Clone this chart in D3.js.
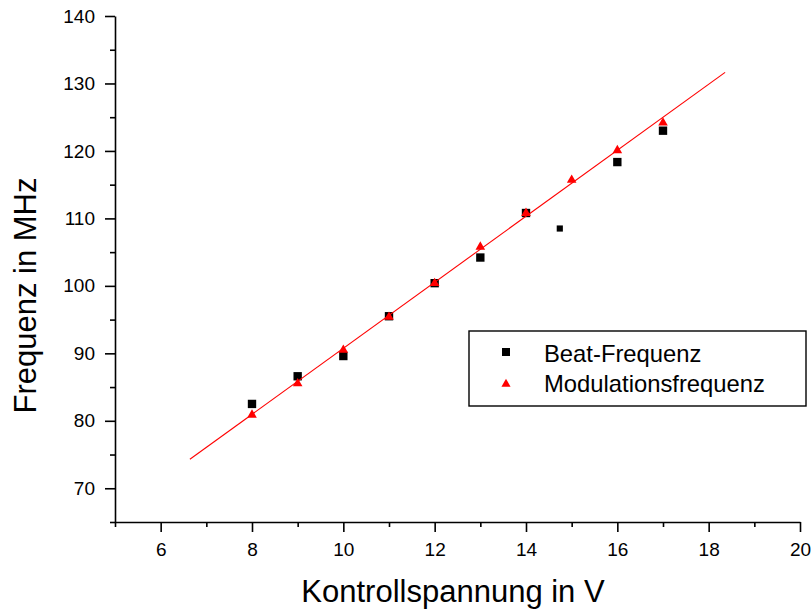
<!DOCTYPE html>
<html>
<head>
<meta charset="utf-8">
<script src="https://cdn.jsdelivr.net/npm/d3@7"></script>
<style>
  body { margin: 0; background: #fff; }
  svg { display: block; font-family: "Liberation Sans", Arial, sans-serif; }
</style>
</head>
<body>
<div id="chart"></div>
<script>
// Beat-Frequenz (black squares)
const beatX = [8, 9, 10, 11, 12, 13, 14, 16, 17];
const beatY = [82.5, 86.6, 89.6, 95.5, 100.4, 104.2, 110.8, 118.35, 123.0];
// single smaller square
const extraX = [14.74];
const extraY = [108.5];
// Modulationsfrequenz (red triangles)
const modX = [8, 9, 10, 11, 12, 13, 14, 15, 16, 17];
const modY = [81.0, 85.65, 90.6, 95.5, 100.5, 105.9, 110.9, 115.8, 120.2, 124.3];
// linear fit line end points
const fitX = [6.64, 18.36];
const fitY = [74.3, 131.65];

const xMajor = [6, 8, 10, 12, 14, 16, 18, 20];
const xMinor = [5, 7, 9, 11, 13, 15, 17, 19];
const yMajor = [70, 80, 90, 100, 110, 120, 130, 140];
const yMinor = [65, 75, 85, 95, 105, 115, 125, 135];

const legendLabels = ["Beat-Frequenz", "Modulationsfrequenz"];

const W = 811, H = 610;
const m = { left: 115, right: 800, top: 16, bottom: 522 };

const svg = d3.select("#chart").append("svg")
    .attr("width", W).attr("height", H);

const x = d3.scaleLinear().domain([5, 20]).range([m.left, m.right]);
const y = d3.scaleLinear().domain([65, 140]).range([m.bottom, m.top]);

// x axis
svg.append("g").attr("transform", `translate(0,${m.bottom})`)
    .call(d3.axisBottom(x).tickValues(xMajor).tickSize(10).tickSizeOuter(0).tickPadding(11));
svg.append("g").attr("transform", `translate(0,${m.bottom})`)
    .call(d3.axisBottom(x).tickValues(xMinor).tickSize(5).tickFormat(""))
    .select(".domain").remove();

// y axis
svg.append("g").attr("transform", `translate(${m.left},0)`)
    .call(d3.axisLeft(y).tickValues(yMajor).tickSize(10).tickSizeOuter(0).tickPadding(10));
svg.append("g").attr("transform", `translate(${m.left},0)`)
    .call(d3.axisLeft(y).tickValues(yMinor).tickSize(5).tickFormat(""))
    .select(".domain").remove();

svg.selectAll(".domain, .tick line").attr("stroke", "#000").attr("stroke-width", 1.6);
svg.selectAll(".tick text").attr("font-size", 19).attr("fill", "#000")
    .attr("font-family", "Liberation Sans, Arial, sans-serif");

// axis titles
svg.append("text")
    .attr("x", 453).attr("y", 602)
    .attr("text-anchor", "middle")
    .attr("font-size", 31)
    .text("Kontrollspannung in V");

svg.append("text")
    .attr("transform", "translate(36,295.5) rotate(-90)")
    .attr("text-anchor", "middle")
    .attr("font-size", 31)
    .text("Frequenz in MHz");

const square = d3.symbol().type(d3.symbolSquare);
const tri = d3.symbol().type(d3.symbolTriangle);

// squares
svg.append("g").selectAll("path")
    .data(beatX.map((v, i) => [v, beatY[i]]))
    .join("path")
    .attr("transform", d => `translate(${x(d[0])},${y(d[1])})`)
    .attr("d", square.size(70))
    .attr("fill", "#000");

svg.append("g").selectAll("path")
    .data(extraX.map((v, i) => [v, extraY[i]]))
    .join("path")
    .attr("transform", d => `translate(${x(d[0])},${y(d[1])})`)
    .attr("d", square.size(38))
    .attr("fill", "#000");

// fit line
svg.append("path")
    .datum(fitX.map((v, i) => [v, fitY[i]]))
    .attr("d", d3.line().x(d => x(d[0])).y(d => y(d[1])))
    .attr("fill", "none")
    .attr("stroke", "#ff0000")
    .attr("stroke-width", 1.1);

// triangles
svg.append("g").selectAll("path")
    .data(modX.map((v, i) => [v, modY[i]]))
    .join("path")
    .attr("transform", d => `translate(${x(d[0])},${y(d[1]) + 0.8})`)
    .attr("d", tri.size(40))
    .attr("fill", "#ff0000");

// legend
const lg = svg.append("g");
lg.append("rect")
    .attr("x", 469).attr("y", 331).attr("width", 337).attr("height", 75)
    .attr("fill", "#fff").attr("stroke", "#000").attr("stroke-width", 1.4);
lg.append("path")
    .attr("transform", "translate(506,352)")
    .attr("d", square.size(64)).attr("fill", "#000");
lg.append("path")
    .attr("transform", "translate(506,384)")
    .attr("d", tri.size(36)).attr("fill", "#ff0000");
lg.selectAll("text")
    .data(legendLabels)
    .join("text")
    .attr("x", 544)
    .attr("y", (d, i) => 361.5 + i * 30.5)
    .attr("font-size", 23.8)
    .text(d => d);
</script>
</body>
</html>
